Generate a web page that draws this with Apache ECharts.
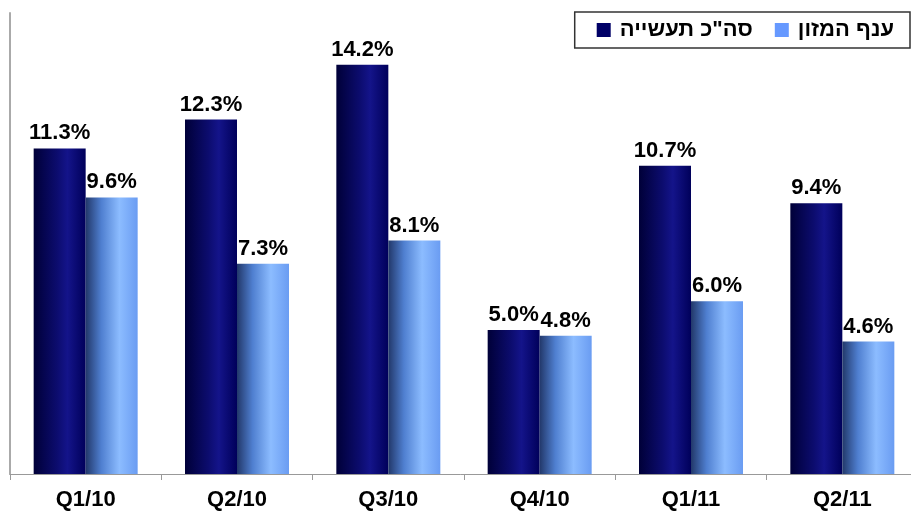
<!DOCTYPE html>
<html>
<head>
<meta charset="utf-8">
<script src="https://cdn.jsdelivr.net/npm/echarts@6/dist/echarts.min.js"></script>
<style>
  html, body { margin: 0; padding: 0; background: #fff; }
  #chart-container { width: 911px; height: 516px; }
</style>
</head>
<body>
<div id="chart-container"></div>
<script>
var dom = document.getElementById("chart-container");
var myChart = echarts.init(dom, null, { renderer: "canvas" });

// quarters
let categories = ["Q1/10", "Q2/10", "Q3/10", "Q4/10", "Q1/11", "Q2/11"];
// total industry
let totalIndustry = [11.3, 12.3, 14.2, 5.0, 10.7, 9.4];
// food sector
let foodSector = [9.6, 7.3, 8.1, 4.8, 6.0, 4.6];
let seriesNames = ['סה"כ תעשייה', "ענף המזון"];

var darkFill = new echarts.graphic.LinearGradient(0, 0, 1, 0, [
  { offset: 0, color: "#000038" },
  { offset: 0.45, color: "#0c0c6e" },
  { offset: 0.65, color: "#14148a" },
  { offset: 1, color: "#00005a" }
]);
var lightFill = new echarts.graphic.LinearGradient(0, 0, 1, 0, [
  { offset: 0, color: "#22386a" },
  { offset: 0.3, color: "#4f7fd0" },
  { offset: 0.65, color: "#8cbcff" },
  { offset: 1, color: "#6a9cf2" }
]);

var labelStyle = {
  show: true,
  position: "top",
  distance: 4,
  color: "#000",
  fontFamily: "Liberation Sans, Arial, sans-serif",
  fontWeight: "bold",
  fontSize: 22,
  formatter: (p) => p.value.toFixed(1) + "%"
};

var option = {
  animation: false,
  textStyle: { fontFamily: "Liberation Sans, Arial, sans-serif" },
  grid: { left: 10, right: -7, top: 13, bottom: 42, outerBoundsMode: "none" },
  legend: {
    data: [
      { name: seriesNames[0], itemStyle: { color: "#000066" } },
      { name: seriesNames[1], itemStyle: { color: "#6699ff" } }
    ],
    right: 1,
    top: 12,
    icon: "rect",
    itemWidth: 14,
    itemHeight: 14,
    itemGap: 22,
    padding: [7, 16, 7, 22],
    borderColor: "#333",
    borderWidth: 1.5,
    textStyle: { fontSize: 22, fontWeight: "bold", color: "#000", padding: [0, 0, 0, 4] }
  },
  xAxis: {
    type: "category",
    data: categories,
    axisLine: { lineStyle: { color: "#999" } },
    axisTick: { show: true, length: 6, lineStyle: { color: "#999" } },
    axisLabel: {
      color: "#000",
      fontSize: 22,
      fontWeight: "bold",
      margin: 15
    }
  },
  yAxis: {
    type: "value",
    min: 0,
    max: 16,
    axisLine: { show: true, lineStyle: { color: "#aaa", width: 2 } },
    axisTick: { show: false },
    axisLabel: { show: false },
    splitLine: { show: false }
  },
  series: [
    {
      name: seriesNames[0],
      type: "bar",
      data: totalIndustry,
      barWidth: 52,
      barGap: "0%",
      itemStyle: { color: darkFill },
      label: labelStyle
    },
    {
      name: seriesNames[1],
      type: "bar",
      data: foodSector,
      barWidth: 52,
      barGap: "0%",
      itemStyle: { color: lightFill },
      label: labelStyle
    }
  ]
};

myChart.setOption(option);
window.addEventListener("resize", myChart.resize);
</script>
</body>
</html>
